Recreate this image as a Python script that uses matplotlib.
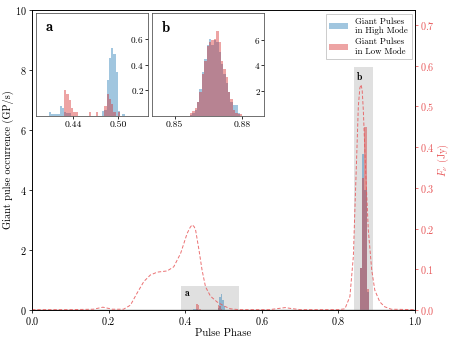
import matplotlib
matplotlib.use('Agg')
import matplotlib.pyplot as plt
import numpy as np
from matplotlib.patches import Patch, Rectangle

plt.rcParams['font.family'] = 'serif'
plt.rcParams['font.serif'] = ['cmr10']
plt.rcParams['mathtext.fontset'] = 'cm'
plt.rcParams['axes.formatter.use_mathtext'] = True

# mean flux density profile (Jy)
prof_phase = [0.0, 0.10, 0.16, 0.175, 0.185, 0.195, 0.21,
              0.239, 0.257, 0.274, 0.292, 0.309, 0.327, 0.353, 0.370, 0.388, 0.405,
              0.413, 0.418, 0.423, 0.427, 0.436, 0.444, 0.453, 0.466, 0.483, 0.501,
              0.518, 0.54, 0.62, 0.645, 0.661, 0.675, 0.70,
              0.80, 0.817, 0.830, 0.839, 0.843, 0.848, 0.852, 0.856, 0.859, 0.862,
              0.865, 0.871, 0.878, 0.887, 0.895, 0.908, 0.921, 0.938, 1.0]
prof_jy = [0.001, 0.001, 0.002, 0.005, 0.007, 0.005, 0.002,
           0.002, 0.012, 0.041, 0.07, 0.086, 0.093, 0.096, 0.106, 0.139, 0.188,
           0.203, 0.209, 0.205, 0.197, 0.147, 0.098, 0.057, 0.034, 0.02, 0.01,
           0.003, 0.001, 0.001, 0.004, 0.006, 0.004, 0.001,
           0.001, 0.003, 0.033, 0.131, 0.246, 0.385, 0.5, 0.545, 0.553, 0.54,
           0.491, 0.344, 0.197, 0.098, 0.049, 0.02, 0.008, 0.002, 0.001]

# main panel histograms (GP/s), coarse bins
main_a_start, main_a_bw = 0.417, 0.004
high_main_a = [0, 0.05, 0.05, 0.03, 0, 0, 0, 0, 0, 0, 0, 0, 0, 0, 0, 0,
               0, 0.08, 0.45, 0.53, 0.35, 0.15, 0]
low_main_a = [0, 0, 0, 0.2, 0.17, 0.05, 0, 0, 0, 0, 0, 0, 0, 0, 0, 0,
              0, 0.16, 0.12, 0.05, 0, 0, 0]
main_b_start, main_b_bw = 0.856, 0.006
high_main_b = [1.4, 5.2, 4.0, 0.6]
low_main_b = [1.4, 4.4, 6.1, 0.7]

# inset a histograms
ins_a_start, ins_a_bw = 0.407, 0.003
high_a = [0.034, 0.013, 0.013, 0.013, 0.013, 0.079, 0.06, 0.034, 0.02, 0.02,
          0, 0, 0, 0, 0, 0, 0, 0, 0, 0,
          0, 0, 0, 0, 0.04, 0.05, 0.28, 0.45, 0.53, 0.48,
          0.34, 0.04, 0, 0.016, 0]
low_a = [0, 0, 0, 0, 0, 0, 0, 0.2, 0.167, 0.126,
         0.06, 0.03, 0.03, 0, 0, 0, 0, 0, 0.03, 0,
         0, 0.03, 0, 0, 0, 0.08, 0.17, 0.13, 0.09, 0.03,
         0, 0.03, 0, 0, 0]

# inset b histograms
ins_b_start, ins_b_bw = 0.85682, 0.001061
high_b = [0.1, 0.2, 0.5, 1.1, 2.1, 3.5, 4.5, 5.6, 6.1, 5.6, 6.0,
          5.8, 5.0, 4.1, 3.3, 2.6, 1.9, 1.1, 0.9, 0.9, 0.2, 0]
low_b = [0.2, 0.4, 0.6, 1.1, 1.9, 3.3, 4.3, 5.5, 5.8, 6.0, 6.1,
         6.7, 5.8, 4.3, 3.7, 3.1, 1.9, 1.35, 0.5, 0.2, 0.15, 0.15]

# zoom regions
xlim_a, ylim_a = (0.39, 0.54), (0, 0.8)
xlim_b, ylim_b = (0.84, 0.89), (0, 8.1)

c_high = 'tab:blue'
c_low = 'tab:red'
c_prof = '#e8585a'
alpha = 0.42


def edges(start, bw, n):
    return start + bw * np.arange(n + 1)


def draw_hists(ax, start, bw, hi, lo):
    ax.stairs(hi, edges(start, bw, len(hi)), fill=True, color=c_high, alpha=alpha, lw=0)
    ax.stairs(lo, edges(start, bw, len(lo)), fill=True, color=c_low, alpha=alpha, lw=0)


fig = plt.figure(figsize=(449 / 70, 337 / 70), dpi=70)
ax = fig.add_axes([0.0713, 0.080, 0.8530, 0.890])

for (x0, x1), (y0, y1), lab in [(xlim_a, ylim_a, 'a'), (xlim_b, ylim_b, 'b')]:
    ax.add_patch(Rectangle((x0, y0), x1 - x0, y1 - y0, facecolor='0.88',
                           edgecolor='none', zorder=0))
    ax.text(x0 + 0.006, y1 - 0.1, r'$\mathbf{%s}$' % lab, fontsize=10,
            ha='left', va='top')

draw_hists(ax, main_a_start, main_a_bw, high_main_a, low_main_a)
draw_hists(ax, main_b_start, main_b_bw, high_main_b, low_main_b)
ax.axhline(0, color='0.45', lw=1.5, zorder=1)

ax.set_xlim(0, 1.0)
ax.set_ylim(0, 10)
ax.set_xticks(np.arange(0, 1.01, 0.2))
ax.set_yticks(np.arange(0, 11, 2))
ax.set_xlabel('Pulse Phase', fontsize=11, labelpad=1)
ax.set_ylabel('Giant pulse occurrence (GP/s)', fontsize=10.5, labelpad=1)
ax.tick_params(labelsize=10.5, pad=2)

handles = [Patch(color=c_high, alpha=alpha, lw=0), Patch(color=c_low, alpha=alpha, lw=0)]
ax.legend(handles, ['Giant Pulses\nin High Mode', 'Giant Pulses\nin Low Mode'],
          loc='upper right', fontsize=9, fancybox=False, edgecolor='0.8',
          handlelength=2.2, borderpad=0.4, labelspacing=0.3, framealpha=1,
          borderaxespad=0.4)

ax2 = ax.twinx()
ax2.plot(prof_phase, prof_jy, '--', color=c_prof, lw=1.0, alpha=0.85,
         dashes=(3.5, 2))
ax2.set_ylim(0, 0.736)
ax2.set_yticks(np.arange(0, 0.71, 0.1))
ax2.tick_params(axis='y', colors=c_prof, labelsize=10.5, pad=2)
ax2.spines['right'].set_color('black')
ax2.set_ylabel(r'$F_\nu$ (Jy)', color=c_prof, fontsize=10.5, labelpad=0)

# insets
for pos, start, bw, hi, lo, xl, yl, xt, yt, lab in [
        ([0.080, 0.656, 0.249, 0.305], ins_a_start, ins_a_bw, high_a, low_a,
         xlim_a, ylim_a, [0.44, 0.50], [0.2, 0.4, 0.6], 'a'),
        ([0.339, 0.656, 0.250, 0.305], ins_b_start, ins_b_bw, high_b, low_b,
         xlim_b, ylim_b, [0.85, 0.88], [2, 4, 6], 'b')]:
    ins = fig.add_axes(pos)
    draw_hists(ins, start, bw, hi, lo)
    ins.set_xlim(*xl)
    ins.set_ylim(*yl)
    ins.set_xticks(xt)
    ins.set_xticklabels([f'{v:.2f}' for v in xt])
    ins.set_yticks(yt)
    ins.yaxis.tick_right()
    ins.tick_params(axis='y', direction='in', pad=-4, labelsize=9.5, length=3)
    ins.tick_params(axis='x', labelsize=10, length=3, pad=2)
    for t in ins.get_yticklabels():
        t.set_horizontalalignment('right')
    for s in ins.spines.values():
        s.set_color('0.3')
    ins.text(0.08, 0.93, r'$\mathbf{%s}$' % lab, transform=ins.transAxes,
             fontsize=15, ha='left', va='top')

fig.savefig('out.png', dpi=70)
